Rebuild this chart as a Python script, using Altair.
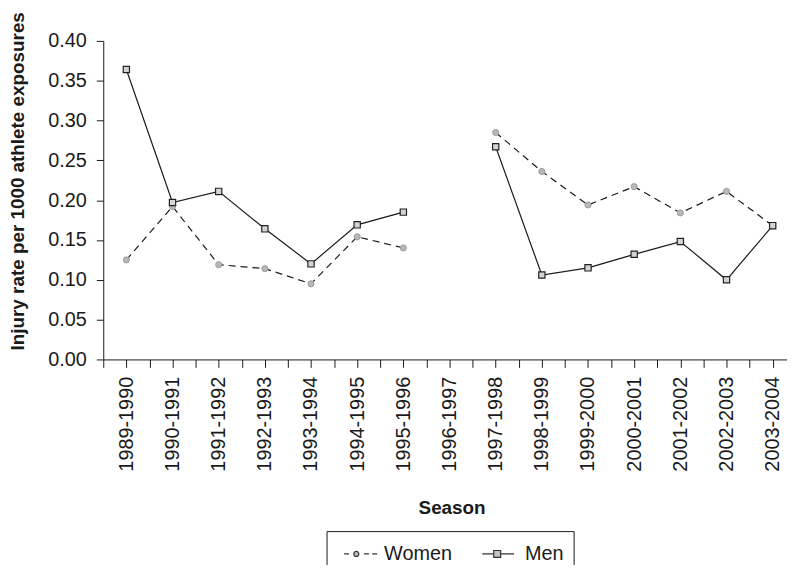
import json
import altair as alt
import pandas as pd

# ---- data ----
seasons = ["1989-1990", "1990-1991", "1991-1992", "1992-1993", "1993-1994",
           "1994-1995", "1995-1996", "1996-1997", "1997-1998", "1998-1999",
           "1999-2000", "2000-2001", "2001-2002", "2002-2003", "2003-2004"]
women = [0.125, 0.192, 0.119, 0.114, 0.095, 0.154, 0.140, None,
         0.285, 0.236, 0.194, 0.217, 0.184, 0.211, 0.168]
men = [0.364, 0.197, 0.211, 0.164, 0.120, 0.169, 0.185, None,
       0.267, 0.106, 0.115, 0.132, 0.148, 0.100, 0.168]
series_names = ["Women", "Men"]
y_ticks = [0.0, 0.05, 0.10, 0.15, 0.20, 0.25, 0.30, 0.35, 0.40]

rows = []
for name, vals in zip(series_names, [women, men]):
    for i, (s, v) in enumerate(zip(seasons, vals)):
        rows.append({"idx": i, "Season": s, "Series": name, "rate": v})
df = pd.DataFrame(rows)

FONT = "Liberation Sans"
x_ticks = [i / 2 for i in range(-1, 2 * len(seasons) - 1)]
label_expr = ("floor(datum.value) == datum.value ? " + json.dumps(seasons) +
              "[datum.value] : ''")

x_enc = alt.X(
    "idx:Q",
    scale=alt.Scale(domain=[-0.5, 14.31], nice=False, zero=False),
    axis=alt.Axis(
        values=x_ticks, labelExpr=label_expr, labelOverlap=False,
        labelFlush=False, labelBound=False,
        labelAngle=270, labelAlign="right", labelBaseline="middle",
        labelFontSize=20, labelPadding=9, labelColor="#1a1a1a", labelFont=FONT,
        tickSize=8, tickColor="#1a1a1a", domainColor="#1a1a1a", grid=False,
        title="Season", titleFont=FONT, titleFontSize=19, titleFontWeight="bold",
        titleColor="#1a1a1a", titleX=351, titleY=140, titleBaseline="top",
        titleAlign="center", titleAngle=0,
    ),
)
y_enc = alt.Y(
    "rate:Q",
    scale=alt.Scale(domain=[0, 0.4], nice=False, zero=True),
    axis=alt.Axis(
        values=y_ticks, format=".2f", labelFontSize=20, labelFont=FONT,
        labelColor="#1a1a1a", labelPadding=10, tickSize=7, tickColor="#1a1a1a",
        domainColor="#1a1a1a", grid=False,
        title="Injury rate per 1000 athlete exposures", titleFont=FONT,
        titleFontSize=19, titleFontWeight="bold", titleColor="#1a1a1a",
        titleX=-86, titleY=141, titleAngle=270, titleAlign="center",
        titleBaseline="middle",
    ),
)

# legend symbols: line + marker, drawn as custom symbol paths
women_path = ("M-0.44,0H-0.03M1.22,0H1.64M1.92,0H2.33"
              "M0.37,0A0.21,0.21 0 1,0 0.79,0A0.21,0.21 0 1,0 0.37,0Z")
men_path = "M-0.67,0H0.29M0.87,0H2M0.29,-0.29H0.87V0.29H0.29Z"

base = alt.Chart(df)

women_line = base.transform_filter(alt.datum.Series == "Women").mark_line(
    color="#1a1a1a", strokeWidth=1.2, strokeDash=[7, 5],
    invalid="break-paths-show-domains",
).encode(x=x_enc, y=y_enc)

men_line = base.transform_filter(alt.datum.Series == "Men").mark_line(
    color="#1a1a1a", strokeWidth=1.2, invalid="break-paths-show-domains",
).encode(x=x_enc, y=y_enc)

women_pts = base.transform_filter(alt.datum.Series == "Women").mark_point(
    shape="circle", filled=True, size=38, fill="#b8b8b8", stroke="#9a9a9a",
    strokeWidth=1, opacity=1,
).encode(x=x_enc, y=y_enc)

men_pts = base.transform_filter(alt.datum.Series == "Men").mark_point(
    shape="square", filled=True, size=40, fill="#d4d4d4", stroke="#222222",
    strokeWidth=1.2, opacity=1,
).encode(x=x_enc, y=y_enc)

legend_def = alt.Legend(
    orient="none", legendX=225, legendY=494, direction="horizontal",
    title=None, symbolSize=576, symbolStrokeWidth=1.2,
    symbolStrokeColor="#333333", symbolFillColor="#c4c4c4",
    symbolOpacity=1, labelFont=FONT, labelFontSize=20,
    labelColor="#1a1a1a", labelOffset=22, columnPadding=25, padding=10,
    strokeColor="#1a1a1a", fillColor="white",
)

# layer that draws nothing in the plot and only supplies the legend
legend_layer = base.transform_filter(alt.datum.rate > 1).mark_point(
    filled=False, fill="#c4c4c4", strokeWidth=1.2, opacity=1, size=576,
).encode(
    x=x_enc, y=y_enc,
    shape=alt.Shape(
        "Series:N",
        scale=alt.Scale(domain=series_names, range=[women_path, men_path]),
        legend=legend_def,
    ),
    stroke=alt.Stroke(
        "Series:N",
        scale=alt.Scale(domain=series_names, range=["#333333", "#333333"]),
        legend=legend_def,
    ),
)

chart = (
    alt.layer(women_line, men_line, women_pts, men_pts, legend_layer)
    .properties(
        width=689, height=321,
        autosize=alt.AutoSizeParams(type="none"),
        padding={"left": 96, "top": 31, "right": 0, "bottom": 205},
        background="white",
    )
    .configure_view(stroke=None)
)

chart.save("out.html", embed_options={"renderer": "svg", "actions": False})
